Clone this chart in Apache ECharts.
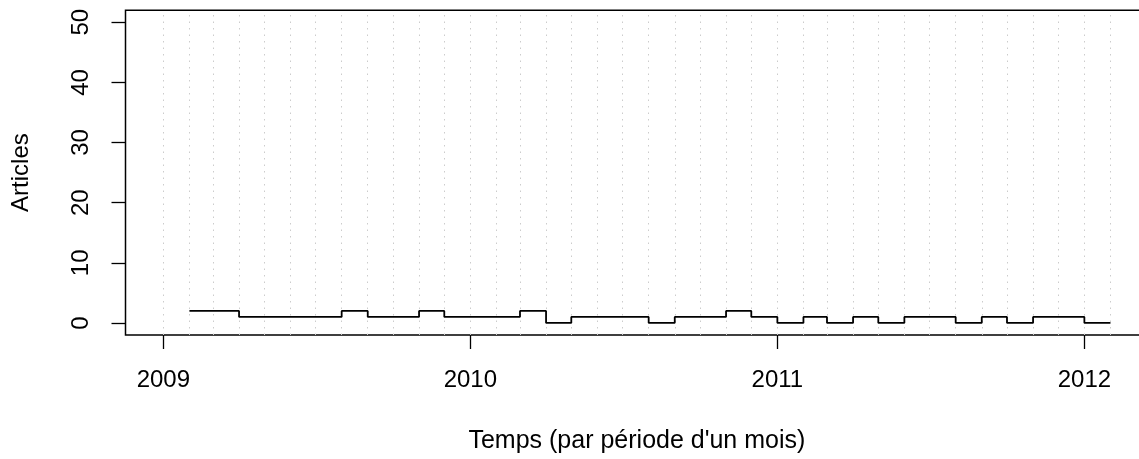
<!DOCTYPE html>
<html>
<head>
<meta charset="utf-8">
<script src="https://cdn.jsdelivr.net/npm/echarts@6/dist/echarts.min.js"></script>
<style>html,body{margin:0;padding:0;background:#fff;overflow:hidden;width:1139px;height:459px;}#c{width:1160px;height:459px;}</style>
</head>
<body>
<div id="c"></div>
<script>
// Monthly article counts (month start, value)
const months = ['2009-02','2009-03','2009-04','2009-05','2009-06','2009-07','2009-08','2009-09','2009-10','2009-11','2009-12',
  '2010-01','2010-02','2010-03','2010-04','2010-05','2010-06','2010-07','2010-08','2010-09','2010-10','2010-11','2010-12',
  '2011-01','2011-02','2011-03','2011-04','2011-05','2011-06','2011-07','2011-08','2011-09','2011-10','2011-11','2011-12',
  '2012-01','2012-02'];
const articles = [2,2,1,1,1,1,2,1,1,2,1,
  1,1,2,0,1,1,1,0,1,1,2,1,
  0,1,0,1,0,1,1,0,1,0,1,1,
  0,0];
// Vertical dotted grid lines at each month start
const gridMonths = ['2009-01'].concat(months);
const yearTicks = [2009, 2010, 2011, 2012];
const yTicks = [0, 10, 20, 30, 40, 50];
const xTitle = "Temps (par période d'un mois)";
const yTitle = 'Articles';

// x positions as days since 2009-01-01 (UTC)
const BASE = Date.UTC(2009, 0, 1);
function day(m){ const [y,mo] = m.split('-').map(Number); return (Date.UTC(y, mo-1, 1) - BASE) / 86400000; }
const xMin = day('2009-01') - 45;
const xMax = day('2012-02') + 45;
const yearPos = yearTicks.map(y => (Date.UTC(y,0,1) - BASE) / 86400000);
const font = "'Liberation Sans', Helvetica, Arial, sans-serif";
const FS = 24;

const chart = echarts.init(document.getElementById('c'), null, {renderer:'canvas'});
chart.setOption({
  animation: false,
  backgroundColor: '#fff',
  grid: {left: 125.5, top: 10.2, bottom: 122.2, right: 11.7, show: true, borderColor: '#000', borderWidth: 1.5, backgroundColor: 'transparent'},
  xAxis: {
    type: 'value', min: xMin, max: xMax,
    axisLine: {show: false, onZero: false},
    splitLine: {show: false},
    axisTick: {show: true, length: 14, customValues: yearPos, lineStyle:{color:'#000', width:1.3}},
    axisLabel: {show: true, customValues: yearPos, margin: 33,
      formatter: v => String(new Date(BASE + v*86400000).getUTCFullYear()), color:'#000', fontSize: FS, fontFamily: font},
    name: xTitle, nameLocation: 'middle', nameGap: 94,
    nameTextStyle: {color:'#000', fontSize: 25, fontFamily: font}
  },
  yAxis: {
    type: 'value', min: -2, max: 52,
    axisLine: {show: false, onZero: false},
    splitLine: {show: false},
    axisTick: {show: true, length: 14, customValues: yTicks, lineStyle:{color:'#000', width:1.3}},
    axisLabel: {show: true, customValues: yTicks, rotate: 90, margin: 32, color:'#000', fontSize: FS, fontFamily: font},
    name: yTitle, nameLocation: 'middle', nameGap: 92, nameRotate: 90,
    nameTextStyle: {color:'#000', fontSize: FS, fontFamily: font}
  },
  series: [{
    type: 'line', step: 'end', showSymbol: false, symbol: 'none',
    data: months.map((m,i)=>[day(m), articles[i]]),
    lineStyle: {color:'#000', width: 1.8},
    z: 5,
    markLine: {
      silent: true, symbol: ['none','none'], label: {show:false},
      lineStyle: {type: [1.5, 5], color: '#cccccc', width: 1},
      data: gridMonths.map(m=>({xAxis: day(m)})),
      z: 1
    }
  }]
});
</script>
</body>
</html>
